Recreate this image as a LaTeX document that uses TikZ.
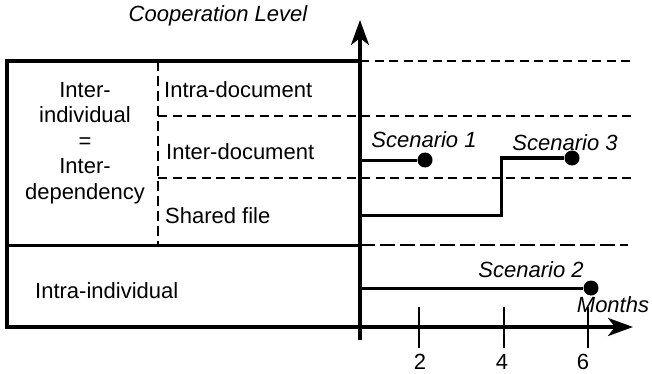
\documentclass[tikz,border=0pt]{standalone}
\usepackage{fontspec}
\setmainfont{Liberation Sans}
\usetikzlibrary{arrows.meta}

\begin{document}
\begin{tikzpicture}[x=1pt,y=-1pt,font={\fontsize{22}{25.5}\selectfont},
  boxline/.style={line width=3pt},
  axisline/.style={line width=3.5pt,-{Stealth[length=25pt,width=18pt,inset=7pt]}},
  rowline/.style={line width=2.5pt,dash pattern=on 9pt off 5.5pt},
  longrow/.style={line width=2.5pt,dash pattern=on 15pt off 5pt},
  split/.style={line width=2.2pt,dash pattern=on 10pt off 5pt},
  scen/.style={line width=3pt},
  dot/.style={circle,fill,inner sep=0pt,minimum size=15pt},
  monthtick/.style={line width=2.5pt},
  lab/.style={inner sep=0pt,anchor=base west},
  slab/.style={inner sep=0pt,anchor=base,font={\fontsize{22}{25.5}\selectfont\itshape}}]
  \useasboundingbox (0,0) rectangle (652,374);

  % Dashed level rows
  \draw[rowline] (360,61) -- (635,61);
  \draw[rowline] (158,116) -- (632,116);
  \draw[rowline] (158,178) -- (632,178);
  \draw[longrow] (360,245) -- (628,245);
  \draw[split] (158,61) -- (158,245);

  % Frame and time axis
  \draw[boxline] (7,245) -- (360,245);
  \draw[axisline,line join=miter] (360,61) -| (7,327) -- (633,327);
  \draw[axisline] (360,340) -- (360,20);

  % Month ticks
  \foreach \x/\lx/\m in {419/420/2,504/502/4,588/583/6}{
    \draw[monthtick] (\x,307) -- (\x,348);
    \node[inner sep=0pt,anchor=base] (m\m) at (\lx,369) {\m};
  }

  % Row labels
  \node[align=center,inner sep=0pt] (interind) at (85,143)
    {Inter-\\individual\\=\\Inter-\\dependency};
  \node[lab] (intradoc) at (164,98) {Intra-document};
  \node[lab] (interdoc) at (166,160) {Inter-document};
  \node[lab] (shared) at (165,223) {Shared file};
  \node[lab] (intraind) at (35,298) {Intra-individual};

  % Axis labels
  \node[slab] (ylabel) at (218,22) {Cooperation Level};
  \node[slab] (xlabel) at (613,312) {Months};

  % Scenarios
  \node[dot] (s1) at (425,160) {};
  \node[dot] (s2) at (591,288) {};
  \node[dot] (s3) at (572,158) {};
  \coordinate (s1start) at (360,160);
  \coordinate (s2start) at (360,288);
  \coordinate (s3start) at (360,215);
  \coordinate (s3step) at (501,158);
  \draw[scen] (s1start) -- (s1);
  \draw[scen] (s2start) -- (s2);
  \draw[scen] (s3start) -| (s3step) -- (s3);
  \node[slab] (s1lab) at (424,148) {Scenario 1};
  \node[slab] (s3lab) at (565,150) {Scenario 3};
  \node[slab] (s2lab) at (531,277) {Scenario 2};
\end{tikzpicture}
\end{document}
